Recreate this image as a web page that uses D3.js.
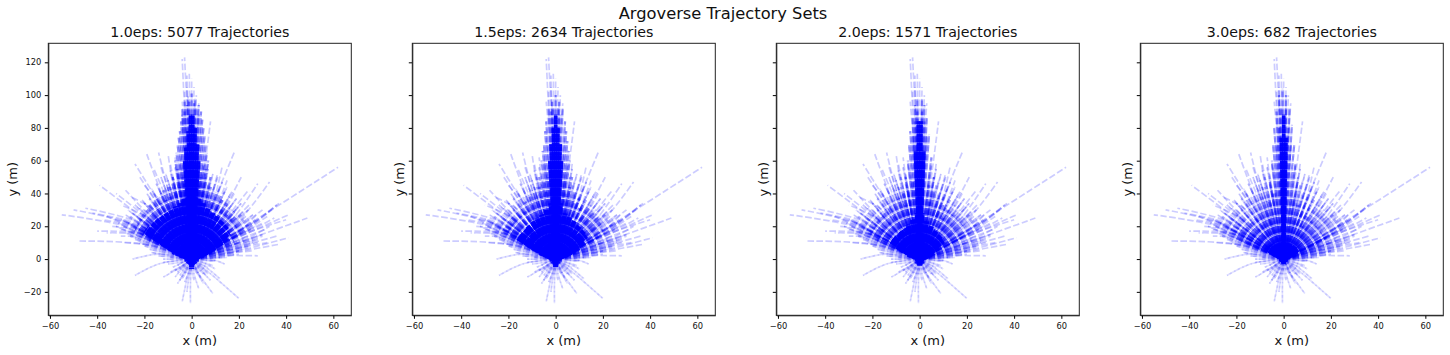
<!DOCTYPE html>
<html>
<head>
<meta charset="utf-8">
<script src="https://cdnjs.cloudflare.com/ajax/libs/d3/7.8.5/d3.min.js"></script>
<style>
  html, body { margin: 0; padding: 0; background: #fff; }
  text { font-family: "DejaVu Sans", sans-serif; fill: #111; }
</style>
</head>
<body>
<div id="chart_area"></div>
<script>
var panelTitles = ["1.0eps: 5077 Trajectories", "1.5eps: 2634 Trajectories", "2.0eps: 1571 Trajectories", "3.0eps: 682 Trajectories"];
var xTicks = [-60, -40, -20, 0, 20, 40, 60];
var yTicks = [-20, 0, 20, 40, 60, 80, 100, 120];

// Trajectories: [end x, end y] or [via x, via y, end x, end y], all start at the ego origin
var outerTrajectories = [
  [-20,17,-55,27],[-20,19,-50,30],[-20,21,-45,31],[-20,20,-42,28],[-20,18,-38,24],[-20,15,-40,17],[-20,9,-48,11],[-18,14,-36,16],
  [-18,22,-39,45],[-18,24,-32,40],[-17,25,-28,42],[-16,23,-30,33],[-18,18,-33,24],[-12,30,-24,58],[-10,30,-19,64],[-8,32,-14,65],
  [-6,30,-10,64],[-4,30,-7,62],[-14,28,-26,38],[-12,28,-22,50],[-10,26,-20,45],[-8,28,-16,55],[-7,30,-13,56],[-5,30,-9,58],
  [-14,12,-30,14],[-16,8,-29,10],[-18,16,-34,20],[-18,14,-30,18],[-20,16,-36,26],
  [14,3,41,13],[14,3,37,9],[12,2,28,2],[10,1,20,3],[16,6,36,14],[14,6,30,14],[12,4,24,7],[12,3,26,5],[14,5,32,10],
  [18,9,49,25],[18,12,41,27],[20,14,40,24],[18,12,35,25],[20,15,36,33],[25,22,62,56],[18,20,33,47],[16,22,28,46],[8,30,18,65],[4,40,8,84],
  [12,26,21,50],[8,28,13,57],[11,22,18,40],[14,18,25,34],[17,16,30,30],[18,14,28,28],[13,22,24,42],[9,26,15,48],[6,28,11,52],[4,30,7,58],
  [20,12,31,18],[20,10,33,20],[16,8,26,12],[18,6,28,10],[20,16,37,34],[20,15,34,30],[18,13,32,26],[22,16,30,22],[18,16,27,24],
  [-2,60,-4,122],[-1,60,-3,123],[-1,60,-2,112],[-0.5,60,-1,113],[0.5,60,1,105],[1,60,2,100],[1.5,60,3,95],[-1.5,60,-3,102],[-2,60,-4,96],[-1,60,-2,105],[0,60,0,110]
];

// Reversing and sideways trajectories below the origin
var lowerTrajectories = [
  [-14,3,-25,0],[-14,-3,-24,-10],[-6,-6,-12,-11],[8,0,14,-3],
  [-2,-12,-4,-26],[-0.5,-14,-0.5,-27],[-3,-8,-6,-15],[-2,-7,-4,-12],[1,-9,3,-18],[3,-9,9,-21],[8,-9,20,-24],[4,-7,8,-13],[6,-5,12,-12],
  [-4,-4,-9,-8],[2,-5,5,-9],[-1,-9,-2,-20],[-3,-4,-7,-11],[3,-4,7,-9],[-1,-4,-3,-9],[1,-4,2,-8],[-5,-3,-8,-5],[5,-2,9,-4],[-2,-5,-5,-13],[2,-6,4,-12],
  [-2,-3,-4,-7],[-3,-3,-6,-8],[-4,-2,-6,-4],[0,-5,-1,-10],[0,-6,1,-13],[2,-3,3,-6],[3,-3,6,-7],[4,-3,7,-5],[-3,-6,-5,-10],[1,-6,3,-10],[-5,-2,-10,-3],[6,-1,10,-1],[-6,-1,-12,-2],[6,-3,10,-6],[-1,-7,-3,-14],[2,-7,5,-15],[4,-6,6,-10],[-4,-5,-7,-7]
];

// Rays of the loose outer part of the fan, shared by all four sets
var fanTrajectories = [
  [-30,24],[-28,27],[-27,30],[-25,28],[-24,33],[-22,31],[-21,36],[-20,34],[-19,40],[-18,37],[-17,43],[-16,40],[-15,46],[-14,43],[-13,50],[-12,46],
  [-11,52],[-10,48],[-9,54],[-8,50],[-7,56],[-6,52],[-5,58],[-4,54],[-29,20],[-26,22],[-24,18],[-23,25],[-20,27],[-18,30],[-16,34],[-13,38],[-11,41],[-9,44],
  [-32,20],[-28,16],[-26,14],[-24,12],[-22,10],[-20,8],[-18,6],[-17,4],[-14,2],[-31,22],[-29,24],[-27,22],[-26,26],[-25,20],[-24,27],[-23,22],[-22,28],[-21,24],[-20,30],[-19,26],[-18,33],[-17,29],[-16,36],[-15,31],[-14,38],[-13,34],[-12,40],[-11,36],[-10,42],[-9,38],[-8,44],[-7,40],[-6,46],[-5,42],
  [-26,17],[-24,15],[-23,19],[-22,16],[-21,20],[-20,13],[-19,17],[-18,11],
  [28,24],[26,27],[25,25],[24,30],[22,29],[21,34],[20,32],[19,37],[18,35],[17,41],[16,38],[15,44],[14,41],[13,47],[12,44],[11,50],[10,46],[9,52],[8,48],[7,55],[6,50],[5,57],[4,53],
  [27,20],[25,18],[24,21],[22,24],[19,27],[17,30],[15,33],[13,36],[11,39],[9,42],[7,45],[26,22],[23,26],[21,27],[20,24],[18,28],[17,25],[16,30],[15,27],[14,33],[13,29],[12,35],[11,31],[10,38],[9,34],[8,40],[7,36],[6,42],[5,38],
  [30,15],[28,12],[26,10],[24,8],[22,6],[20,5],[18,3],[15,1],[-12,0],[-9,1],[10,-1],[12,1],[24,14],[22,12],[21,16],[20,10],[19,14],[18,8],[17,11],[16,6]
];

// Denser bands per set, drawn thicker because each stands for many trajectories
var bandSet1 = [[-24,18],[-23,21],[-22,24],[-21,27],[-19,30],[-18,33],[-16,35],[-15,38],[-13,40],[-12,42],[-10,44],[-8,46],[-6,48],[-4,50],[-21,15],[-22,19],[-20,24],[-17,28],[-15,31],[-13,34],[-11,36],[-9,38],[-7,41],[-5,44],[-3,46],[-18,12],
  [22,18],[21,22],[19,26],[18,29],[16,31],[15,34],[13,36],[12,39],[10,41],[8,44],[6,47],[4,50],[20,15],[18,11],[19,20],[17,24],[15,27],[13,30],[11,33],[9,36],[7,39],[5,42],[3,45],[16,9]];
var bandSet2 = [[-22,17],[-21,20],[-20,23],[-19,26],[-17,29],[-15,32],[-13,35],[-11,38],[-9,41],[-7,44],[-5,47],[-3,50],[-19,14],[-20,18],[-18,22],[-15,26],[-13,29],[-10,33],[-8,36],[-6,38],[-4,41],
  [20,18],[19,22],[18,25],[16,28],[14,31],[12,34],[10,37],[8,41],[6,44],[4,48],[18,14],[16,11],[17,19],[14,24],[12,27],[10,31],[8,34],[6,37],[4,40]];
var bandSet3 = [[-21,16],[-19,20],[-18,23],[-16,26],[-15,28],[-13,31],[-11,34],[-9,37],[-7,40],[-5,43],[-3,47],[-18,12],[-16,18],[-13,22],[-11,26],[-8,30],[-6,33],[-4,36],
  [19,17],[18,21],[16,24],[14,27],[12,30],[10,33],[8,37],[6,41],[4,45],[17,13],[15,17],[12,21],[10,25],[8,29],[6,32],[4,35]];
var bandSet4 = [[-20,13],[-18,16],[-16,19],[-14,22],[-12,25],[-10,28],[-8,31],[-6,35],[-4,40],[-16,10],[-13,15],[-11,18],[-9,21],[-6,25],
  [18,13],[16,16],[14,20],[12,23],[10,26],[8,29],[6,33],[4,38],[15,9],[12,14],[10,17],[8,20],[5,24]];

// Saturated wedge around the origin, one list per set
var coreSet1 = [[-20,17],[-19,19],[-17,22],[-15,24],[-13,26],[-11,28],[-9,30],[-7,32],[-5,34],[-3,37],[-1,41],[1,41],[3,37],[5,34],[7,31],[9,28],[11,26],[13,23],[15,20],[16,16],
  [-18,15],[-16,13],[-13,10],[-10,7],[-8,4.5],[-5,2.5],[15,13],[13,10],[10,7],[8,5],[5,2.5],[-3,0],[3,0],[-1.5,-3],[1.5,-3],[0,-6]];
var coreSet2 = [[-16,13],[-15,15],[-13,18],[-12,20],[-10,23],[-8,25],[-6,27],[-4,30],[-2,34],[0,38],[2,34],[4,28],[6,26],[8,23],[10,20],[12,17],[13,14],
  [-14,11],[-12,9],[-10,7],[-7,4],[-4,2],[12,10],[10,7],[8,5],[5,3],[-2.5,0],[2.5,0],[-1,-3],[1,-3],[0,-5]];
var coreSet3 = [[-12,11],[-11,13],[-9,15],[-8,17],[-6,19],[-5,21],[-3,24],[-1,28],[1,28],[3,23],[5,20],[7,17],[9,14],[10,11],[-10,8],[-8,6],[-5,3],[8,7],[6,4],[4,2],[-2,0],[2,0],[-1,-3],[1,-3],[0,-4]];
var coreSet4 = [[-7,6],[-6,8],[-5,9],[-3,10],[-1,11],[1,11],[3,10],[5,8],[6,6],[-4,3],[4,3],[-2,0],[2,0],[-1,-2],[1,-2],[0,-3]];

// Trunk along the straight-ahead direction
var trunkSet1 = [[-3,60],[-2.5,68],[-1.5,78],[-0.5,88],[0.5,88],[1.5,80],[2.5,70],[3,60]];
var trunkSet2 = [[-2.5,60],[-2,70],[-1,80],[0,88],[1,80],[2,70],[2.5,60]];
var trunkSet3 = [[-1.8,66],[-0.6,84],[0.6,84],[1.8,66]];
var trunkSet4 = [[-1,74],[0,88],[1,74]];

// Dashed halo above and beside the trunk
var haloSet1 = [[-7,60],[-6.5,65],[-6,70],[-5.5,74],[-5,78],[-4.5,84],[-4,88],[-4,92],[-3,96],[-1.5,99],[0,101],[1.5,98],[3,94],[4,90],[4.5,85],[5,80],[5.5,75],[6,70],[6.5,65],[7,60],[-8,50],[8,50],[-6,55],[6,55],[-3,90],[-2,94],[-1,96],[1,95],[2,92],[3,88]];
var haloSet2 = [[-6,60],[-5.5,66],[-5,70],[-4.5,78],[-4,84],[-3,92],[-1.5,96],[0,100],[1.5,96],[3,92],[4,84],[4.5,78],[5,72],[5.5,66],[6,60],[-7,50],[7,50],[-2,90],[2,88],[-1,92],[1,92]];
var haloSet3 = [[-5,60],[-4.5,70],[-4,78],[-3,86],[-2,94],[-1,98],[1,98],[2,94],[3,86],[4,76],[5,62],[-6,50],[6,50],[-3,75],[3,75],[-2,84],[2,84],[-1,90],[1,90]];
var haloSet4 = [[-5,60],[-4.5,70],[-4,80],[-3,90],[-2,100],[-0.5,104],[1,100],[2.5,92],[3.5,82],[4.5,70],[5,58],[-6,48],[6,48],[-3,70],[3,70],[-2,80],[2,80],[-1,92],[1,92]];

var bandSets = [bandSet1, bandSet2, bandSet3, bandSet4];
var coreSets = [coreSet1, coreSet2, coreSet3, coreSet4];
var trunkSets = [trunkSet1, trunkSet2, trunkSet3, trunkSet4];
var haloSets = [haloSet1, haloSet2, haloSet3, haloSet4];

var frame_width = 1450;
var frame_height = 355;
var panel_width = 303;
var panel_height = 272;
var panel_left = [48.3, 412.3, 776.3, 1140.3];
var panel_top = 43.3;
var dash = "6.5,2.5";

var frame = d3.select("#chart_area").append("svg")
    .attr("width", frame_width)
    .attr("height", frame_height)
    .style("display", "block");

frame.append("text")
    .attr("x", 723)
    .attr("y", 19)
    .attr("text-anchor", "middle")
    .style("font-size", "16.3px")
    .text("Argoverse Trajectory Sets");

var xScale = d3.scaleLinear().domain([-60.7, 67.6]).range([0, panel_width]);
var yScale = d3.scaleLinear().domain([-34.3, 131.6]).range([panel_height, 0]);

var line = d3.line()
    .x(function(d) { return xScale(d[0]); })
    .y(function(d) { return yScale(d[1]); })
    .curve(d3.curveCatmullRom);

// origin first, then the optional via point, then the end point
function trajectoryPath(t) {
  var pts = [[0, 0]];
  for (var i = 0; i < t.length; i += 2) pts.push([t[i], t[i + 1]]);
  return line(pts);
}

function drawLayer(g, rows, width, opacity, dashes, offset) {
  g.append("g")
      .attr("fill", "none")
      .attr("stroke", "#0000ff")
      .attr("stroke-width", width)
      .attr("stroke-opacity", opacity)
      .attr("stroke-dasharray", dashes)
      .attr("stroke-dashoffset", offset || 0)
    .selectAll("path")
    .data(rows)
    .enter().append("path")
      .attr("d", trajectoryPath);
}

panelTitles.forEach(function(title, i) {
  var canvas = frame.append("g")
      .attr("transform", "translate(" + panel_left[i] + "," + panel_top + ")");

  drawLayer(canvas, outerTrajectories, 1.7, 0.2, dash);
  drawLayer(canvas, lowerTrajectories, 1.7, 0.13, dash);
  drawLayer(canvas, lowerTrajectories, 1.7, 0.11, dash, 4);
  drawLayer(canvas, fanTrajectories, 1.7, 0.22, dash);
  drawLayer(canvas, fanTrajectories, 1.7, 0.12, dash, 3);
  drawLayer(canvas, bandSets[i], 3, 0.33, dash);
  drawLayer(canvas, bandSets[i], 3, 0.2, dash, 1.5);
  drawLayer(canvas, haloSets[i], 2.2, 0.33, dash);
  drawLayer(canvas, haloSets[i], 2.2, 0.2, dash, 1.5);
  drawLayer(canvas, coreSets[i], 5, 0.95, "8,1");
  drawLayer(canvas, coreSets[i], 5, 0.7, "8,1", 4);
  drawLayer(canvas, trunkSets[i], 3.5, 0.9, "8,1");
  drawLayer(canvas, trunkSets[i], 3.5, 0.7, "8,1", 4);

  var xAxis = d3.axisBottom(xScale).tickValues(xTicks).tickSize(3.5).tickSizeOuter(0).tickPadding(4.5);
  var yAxis = d3.axisLeft(yScale).tickValues(yTicks).tickSize(3.5).tickSizeOuter(0).tickPadding(3.5);
  if (i > 0) yAxis.tickFormat("");

  canvas.append("g").attr("transform", "translate(0," + panel_height + ")").call(xAxis);
  canvas.append("g").call(yAxis);
  canvas.selectAll(".tick text").style("font-size", "8.3px");
  canvas.selectAll(".domain").attr("stroke", "#222").attr("stroke-width", 1);

  canvas.append("rect")
      .attr("width", panel_width)
      .attr("height", panel_height)
      .attr("fill", "none")
      .attr("stroke", "#222")
      .attr("stroke-width", 1);

  canvas.append("text")
      .attr("x", panel_width / 2)
      .attr("y", -6)
      .attr("text-anchor", "middle")
      .style("font-size", "14.2px")
      .text(title);

  canvas.append("text")
      .attr("x", panel_width / 2)
      .attr("y", panel_height + 30)
      .attr("text-anchor", "middle")
      .style("font-size", "13px")
      .text("x (m)");

  canvas.append("text")
      .attr("transform", "translate(" + (i == 0 ? -31 : -8) + "," + (panel_height / 2) + ") rotate(-90)")
      .attr("text-anchor", "middle")
      .style("font-size", "13px")
      .text("y (m)");
});
</script>
</body>
</html>
